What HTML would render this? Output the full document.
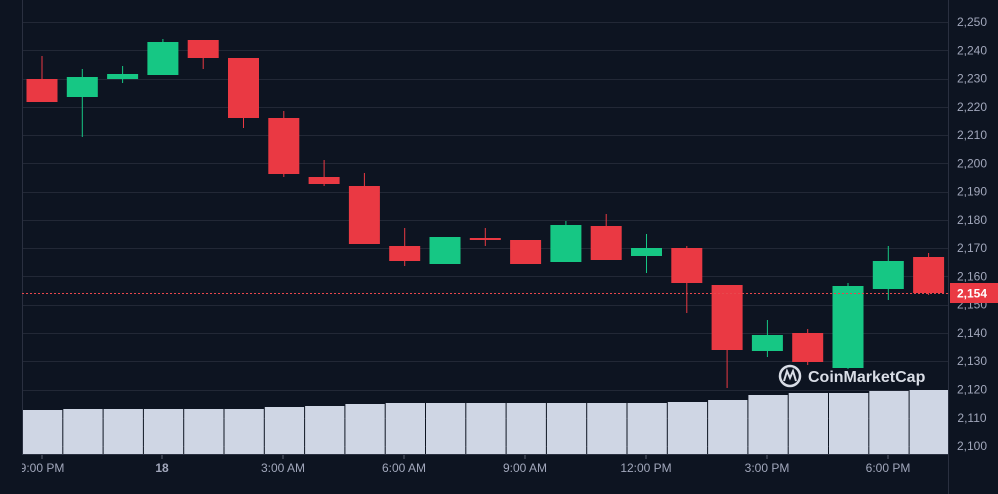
<!DOCTYPE html>
<html><head><style>
body{margin:0;background:#0d1421;}
svg{display:block;font-family:"Liberation Sans",sans-serif;}
</style></head><body>
<svg width="998" height="494" viewBox="0 0 998 494">
<defs><clipPath id="cx"><rect x="22" y="455" width="926" height="39"/></clipPath></defs>
<rect width="998" height="494" fill="#0d1421"/>
<g id="grid" stroke="#222836" stroke-width="1"></g>
<g id="ylab" fill="#a1a7bb" font-size="12" text-anchor="middle"></g>
<g id="vol" fill="#cfd6e4"></g>
<g id="candles"></g>
<line x1="22.5" y1="0" x2="22.5" y2="455" stroke="#2a3040"/>
<line x1="948.5" y1="0" x2="948.5" y2="494" stroke="#2a3040"/>
<line x1="22" y1="454.5" x2="948" y2="454.5" stroke="#2a3040"/>
<line x1="22" y1="293.5" x2="950" y2="293.5" stroke="#e8474d" stroke-dasharray="2,2" stroke-width="1"/>
<rect x="950" y="283" width="48" height="20" fill="#ea3943"/>
<text x="972" y="297.5" fill="#fff" font-size="12" font-weight="bold" text-anchor="middle">2,154</text>
<g fill="#a1a7bb" font-size="12" text-anchor="middle" clip-path="url(#cx)">
<text x="42" y="472">9:00 PM</text>
<text x="162" y="472" font-weight="bold">18</text>
<text x="283" y="472">3:00 AM</text>
<text x="404" y="472">6:00 AM</text>
<text x="525" y="472">9:00 AM</text>
<text x="646" y="472">12:00 PM</text>
<text x="767" y="472">3:00 PM</text>
<text x="888" y="472">6:00 PM</text>
</g>
<g stroke="#5a6070"><line x1="42" y1="455" x2="42" y2="459"/><line x1="162" y1="455" x2="162" y2="459"/><line x1="283" y1="455" x2="283" y2="459"/><line x1="404" y1="455" x2="404" y2="459"/><line x1="525" y1="455" x2="525" y2="459"/><line x1="646" y1="455" x2="646" y2="459"/><line x1="767" y1="455" x2="767" y2="459"/><line x1="888" y1="455" x2="888" y2="459"/></g>
<g fill="#d9dde6">
<circle cx="790" cy="376" r="10" fill="none" stroke="#d9dde6" stroke-width="2.5"/>
<path d="M784 381 L787 371 L790 378 L793 371 L796 381" fill="none" stroke="#d9dde6" stroke-width="2"/>
<text x="808" y="382" font-size="16" font-weight="bold">CoinMarketCap</text>
</g>
</svg>
<script>
const ns="http://www.w3.org/2000/svg";
function el(p,t,a){const e=document.createElementNS(ns,t);for(const k in a)e.setAttribute(k,a[k]);document.getElementById(p).appendChild(e);return e;}
for(let i=0;i<=15;i++){const y=22+i*28.27;el("grid","line",{x1:22,x2:948,y1:Math.round(y)+.5,y2:Math.round(y)+.5});
const t=el("ylab","text",{x:972,y:y+4});t.textContent=(2250-i*10).toLocaleString("en-US");}
const vt=[410,409,409,409,409,409,407,406,404,403,403,403,403,403,403,403,402,400,395,393,393,391,390];
vt.forEach((t,i)=>{const x=23+i*40.3;el("vol","rect",{x:x,y:t,width:39.3,height:454-t});});
const c=[["r",79,102,56,102],["g",77,97,69,137],["g",74,79,66,83],["g",42,75,39,75],["r",40,58,40,69],["r",58,118,58,128],["r",118,174,111,177],["r",177,184,160,186],["r",186,244,173,244],["r",246,261,228,266],["g",237,264,237,264],["r",238,240,228,246],["r",240,264,240,264],["g",225,262,221,262],["r",226,260,214,260],["g",248,256,234,273],["r",248,283,246,313],["r",285,350,285,388],["g",335,351,320,357],["r",333,362,329,365],["g",286,368,283,369],["g",261,289,246,300],["r",257,293,253,295]];
c.forEach((d,i)=>{const cx=42+i*40.3;const col=d[0]=="g"?"#16c784":"#ea3943";
el("candles","line",{x1:cx,x2:cx,y1:d[3],y2:d[4],stroke:col,"stroke-width":1});
el("candles","rect",{x:cx-15.5,y:d[1],width:31,height:Math.max(1.5,d[2]-d[1]),fill:col});});
</script>
</body></html>
